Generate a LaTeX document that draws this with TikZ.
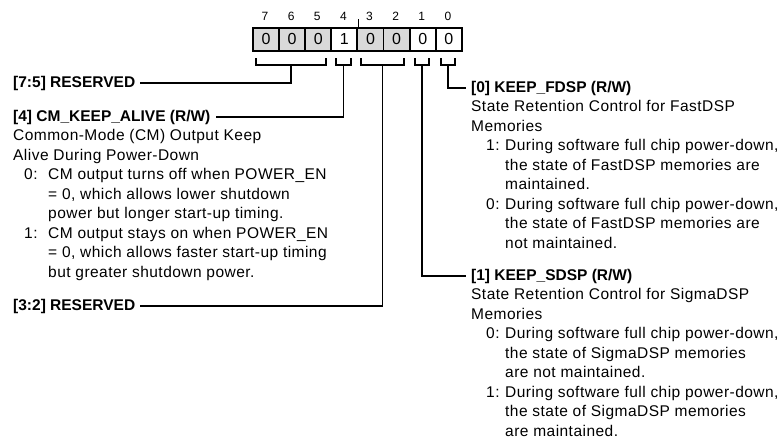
\documentclass[tikz,border=0pt]{standalone}
\usepackage{fontspec}
\setmainfont{Liberation Sans}[LetterSpace=3.0, BoldFeatures={LetterSpace=0.0}]
\newcommand\fs{\fontsize{15.5}{19.5}\selectfont}
\definecolor{cellgray}{HTML}{D9D9D9}
\begin{document}
\begin{tikzpicture}[x=1pt,y=-1pt,
  cell/.style={draw, line width=1.8pt, minimum width=26.1pt, minimum height=23pt, inner sep=0, anchor=north west, font=\fontsize{16}{16}\selectfont},
  bitno/.style={font=\fontsize{12}{12}\selectfont, inner sep=0, anchor=base},
  txt/.style={anchor=base west, inner sep=0, font=\fs},
  hdr/.style={txt, font=\fs\bfseries},
  wire/.style={line width=1.8pt},
  brk/.style={line width=1.8pt}]
\useasboundingbox (0,0) rectangle (784,445);
% register cells
\foreach \b/\v/\f [count=\k from 0] in {7/0/cellgray,6/0/cellgray,5/0/cellgray,4/1/white,3/0/cellgray,2/0/cellgray,1/0/white,0/0/white}{
  \node[cell, fill=\f] (c\b) at (252+\k*26.125, 27) {\v};
  \node[bitno] (n\b) at (252+\k*26.125+13.06, 20.5) {\b};
}
\draw[line width=1.2pt] (c4.north east) -- ++(0,-8);
% brackets
\draw[brk] (256,58) |- (326,65) -- (326,58);
\coordinate (s75) at (291,65);
\draw[brk] (336,58) |- (351,65) -- (351,58);
\coordinate (s4) at (343.5,65);
\draw[brk] (361,58) |- (404,65) -- (404,58);
\coordinate (s32) at (382.5,65);
\draw[brk] (415,58) |- (429,65) -- (429,58);
\coordinate (s1) at (422,65);
\draw[brk] (441,58) |- (455,65) -- (455,58);
\coordinate (s0) at (448,65);
% left texts
\node[hdr] (r75) at (13,87) {[7:5] RESERVED};
\node[hdr] (h4) at (13,121) {[4] CM\_KEEP\_ALIVE (R/W)};
\node[txt] (a1) at (13,140.5) {Common-Mode (CM) Output Keep};
\node[txt] (a2) at (13,160) {Alive During Power-Down};
\node[txt] (a3n) at (24,179.5) {0:};
\node[txt] (a3) at (48,179.5) {CM output turns off when POWER\_EN};
\node[txt] (a4) at (48,199) {= 0, which allows lower shutdown};
\node[txt] (a5) at (48,218.5) {power but longer start-up timing.};
\node[txt] (a6n) at (24,238) {1:};
\node[txt] (a6) at (48,238) {CM output stays on when POWER\_EN};
\node[txt] (a7) at (48,257.5) {= 0, which allows faster start-up timing};
\node[txt] (a8) at (48,277) {but greater shutdown power.};
\node[hdr] (r32) at (13,310) {[3:2] RESERVED};
% right texts
\node[hdr] (h0) at (471,92) {[0] KEEP\_FDSP (R/W)};
\node[txt] (b1) at (471,111.5) {State Retention Control for FastDSP};
\node[txt] (b2) at (471,131) {Memories};
\node[txt] (b3n) at (486,150.5) {1:};
\node[txt] (b3) at (505,150.5) {During software full chip power-down,};
\node[txt] (b4) at (505,170) {the state of FastDSP memories are};
\node[txt] (b5) at (505,189.5) {maintained.};
\node[txt] (b6n) at (486,209) {0:};
\node[txt] (b6) at (505,209) {During software full chip power-down,};
\node[txt] (b7) at (505,228.5) {the state of FastDSP memories are};
\node[txt] (b8) at (505,248) {not maintained.};
\node[hdr] (h1) at (471,280) {[1] KEEP\_SDSP (R/W)};
\node[txt] (d1) at (471,299.5) {State Retention Control for SigmaDSP};
\node[txt] (d2) at (471,319) {Memories};
\node[txt] (d3n) at (486,338.5) {0:};
\node[txt] (d3) at (505,338.5) {During software full chip power-down,};
\node[txt] (d4) at (505,358) {the state of SigmaDSP memories};
\node[txt] (d5) at (505,377.5) {are not maintained.};
\node[txt] (d6n) at (486,397) {1:};
\node[txt] (d6) at (505,397) {During software full chip power-down,};
\node[txt] (d7) at (505,416.5) {the state of SigmaDSP memories};
\node[txt] (d8) at (505,436) {are maintained.};
% connectors
\draw[wire] (s75) |- ([xshift=5pt]r75.east);
\draw[wire] (s4) |- ([xshift=5pt]h4.east);
\draw[wire] (s32) |- ([xshift=5pt]r32.east);
\draw[wire] (s1) |- ([xshift=-5pt]h1.west);
\draw[wire] (s0) |- ([xshift=-5pt]h0.west);
\end{tikzpicture}
\end{document}
